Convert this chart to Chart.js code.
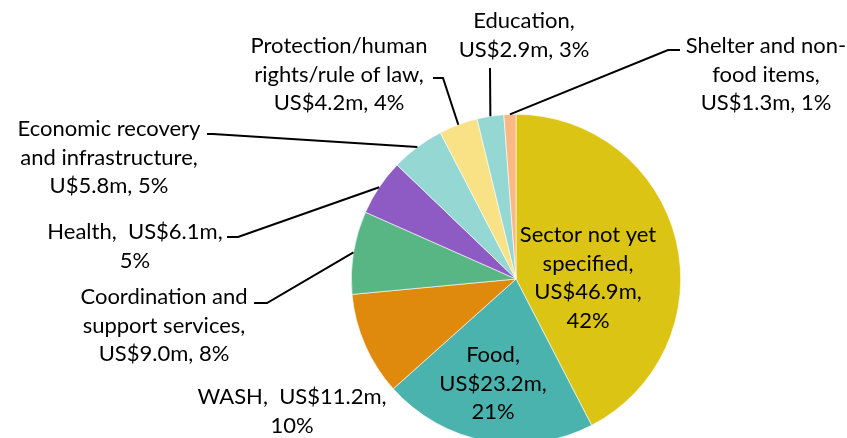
<!DOCTYPE html>
<html>
<head>
<meta charset="utf-8">
<script src="https://cdn.jsdelivr.net/npm/chart.js@4/dist/chart.umd.min.js"></script>
<style>
  html, body { margin:0; padding:0; background:#fff; overflow:hidden; }
  #wrap { width:847px; height:460px; }
</style>
</head>
<body>
<div id="wrap"><canvas id="pie" width="847" height="460"></canvas></div>
<script>
// Funding by sector (US$ m), clockwise from 12 o'clock
const sectors = ['Sector not yet specified','Food','WASH','Coordination and support services','Health',
                 'Economic recovery and infrastructure','Protection/human rights/rule of law','Education','Shelter and non-food items'];
const amounts  = [46.9, 23.2, 11.2, 9.0, 6.1, 5.8, 4.2, 2.9, 1.3];
const percents = [42, 21, 10, 8, 5, 5, 4, 3, 1];
const colours  = ['#DCC414','#4BB3AE','#DF8A0C','#58B584','#8E5BC4','#95D7D2','#F8E285','#95D7D2','#F9B984'];

// label text, line by line (as in the source)
const labelLines = [
  ['Sector not yet', 'specified,', 'US$46.9m,', '42%'],
  ['Food,', 'US$23.2m,', '21%'],
  ['WASH,  US$11.2m,', '10%'],
  ['Coordination and', 'support services,', 'US$9.0m, 8%'],
  ['Health,  US$6.1m,', '5%'],
  ['Economic recovery', 'and infrastructure,', 'U$5.8m, 5%'],
  ['Protection/human', 'rights/rule of law,', 'US$4.2m, 4%'],
  ['Education,', 'US$2.9m, 3%'],
  ['Shelter and non-', 'food items,', 'US$1.3m, 1%']
];

// layout: text centre x, first line y, leader elbow [x1,y1,x2,y2] or null
const labelPos = [
  { x:588, y:235, lead:null },
  { x:493, y:355, lead:null },
  { x:292, y:397, lead:null },
  { x:164, y:297, lead:[254,303,267,303] },
  { x:135, y:232, lead:[227,237,238,237] },
  { x:109, y:129, lead:[207,134,213,134] },
  { x:339, y:46,  lead:[433,78,443,78] },
  { x:524, y:21,  lead:[490,68,490,68] },
  { x:766, y:46,  lead:[680,50,668,50] }
];
const lineH = 28.7;

const labelPlugin = {
  id: 'sectorLabels',
  afterDatasetsDraw(chart) {
    const ctx = chart.ctx;
    const arcs = chart.getDatasetMeta(0).data;
    ctx.save();
    ctx.strokeStyle = '#000';
    ctx.lineWidth = 2;
    arcs.forEach((arc, i) => {
      const p = labelPos[i];
      if (!p.lead) return;
      const mid = (arc.startAngle + arc.endAngle) / 2;
      const ex = arc.x + Math.cos(mid) * arc.outerRadius;
      const ey = arc.y + Math.sin(mid) * arc.outerRadius;
      ctx.beginPath();
      ctx.moveTo(p.lead[0], p.lead[1]);
      ctx.lineTo(p.lead[2], p.lead[3]);
      ctx.lineTo(ex, ey);
      ctx.stroke();
    });
    ctx.fillStyle = '#000';
    ctx.font = '22px Lato, "Open Sans", sans-serif';
    ctx.textAlign = 'center';
    ctx.textBaseline = 'middle';
    labelLines.forEach((lines, i) => {
      lines.forEach((t, k) => ctx.fillText(t, labelPos[i].x, labelPos[i].y + k * lineH));
    });
    ctx.restore();
  }
};

new Chart(document.getElementById('pie'), {
  type: 'pie',
  data: {
    labels: sectors,
    datasets: [{
      data: amounts,
      backgroundColor: colours,
      borderColor: '#ffffff',
      borderWidth: 0.6,
      hoverOffset: 0
    }]
  },
  options: {
    responsive: false,
    animation: false,
    events: [],
    layout: { padding: { left:351, right:166, top:114, bottom:16 } },
    plugins: { legend: { display:false }, tooltip: { enabled:false } }
  },
  plugins: [labelPlugin]
});
</script>
</body>
</html>
